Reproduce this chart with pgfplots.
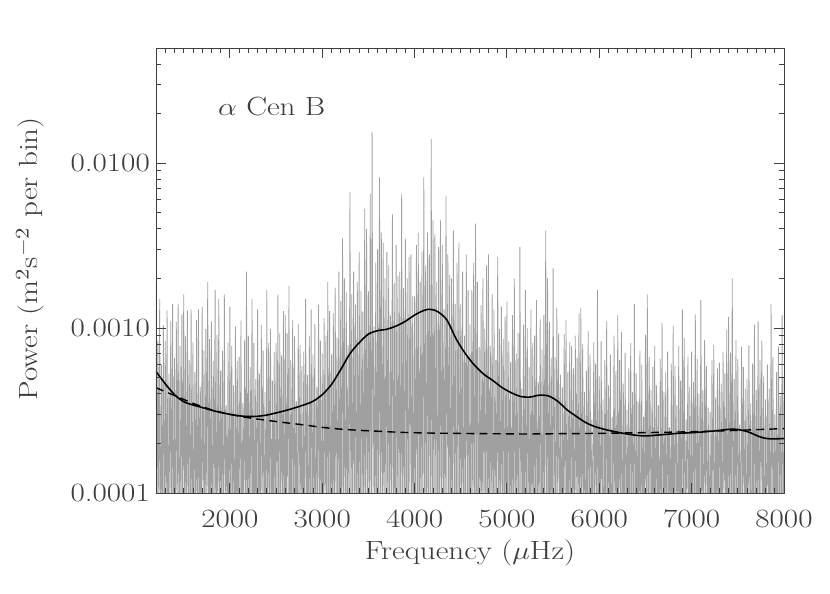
\documentclass[border=0pt]{standalone}
\usepackage{pgfplots}
\pgfplotsset{compat=1.18}
\usepackage{pgfplotstable}
\definecolor{spec}{RGB}{160,160,160}
\definecolor{txt}{RGB}{60,60,60}
\newcommand\hs[1]{\scalebox{1.18}[1]{#1}}
% power in units of 1e-4 m^2 s^-2 per bin
\pgfplotstableread[row sep=\\]{
f p\\
1200 19\\ 1210 0.3\\ 1220 8.4\\ 1230 0.8\\ 1240 15\\ 1250 0.15\\ 1260 6.0\\ 1270 0.5\\ 1280 10.4\\ 1290 0.4\\
1300 8.4\\ 1310 0.6\\ 1320 12.8\\ 1330 0.2\\ 1340 5.3\\ 1350 0.9\\ 1360 11\\ 1370 0.35\\ 1380 14\\ 1390 0.25\\
1400 6.6\\ 1410 0.3\\ 1420 10.9\\ 1430 0.8\\ 1440 14\\ 1450 0.15\\ 1460 7.8\\ 1470 0.5\\ 1480 12.1\\ 1490 0.4\\
1500 16\\ 1510 0.6\\ 1520 8.9\\ 1530 0.2\\ 1540 12.8\\ 1550 0.9\\ 1560 6.4\\ 1570 0.35\\ 1580 13\\ 1590 0.25\\
1600 8.2\\ 1610 0.3\\ 1620 5.4\\ 1630 0.8\\ 1640 11.2\\ 1650 0.15\\ 1660 13\\ 1670 0.5\\ 1680 4.4\\ 1690 0.4\\
1700 13.5\\ 1710 0.6\\ 1720 7.3\\ 1730 0.2\\ 1740 9.9\\ 1750 0.9\\ 1760 19\\ 1770 0.35\\ 1780 8.6\\ 1790 0.25\\
1800 11\\ 1810 0.3\\ 1820 6.3\\ 1830 0.8\\ 1840 17\\ 1850 0.15\\ 1860 9.1\\ 1870 0.5\\ 1880 15\\ 1890 0.4\\
1900 5.5\\ 1910 0.6\\ 1920 7.3\\ 1930 0.2\\ 1940 16\\ 1950 0.9\\ 1960 3.4\\ 1970 0.35\\ 1980 8.2\\ 1990 0.25\\
2000 13.5\\ 2010 0.3\\ 2020 7.8\\ 2030 0.8\\ 2040 4.5\\ 2050 0.15\\ 2060 10.2\\ 2070 0.5\\ 2080 6.3\\ 2090 0.4\\
2100 6.7\\ 2110 0.6\\ 2120 11.1\\ 2130 0.2\\ 2140 3.5\\ 2150 0.9\\ 2160 8.5\\ 2170 0.35\\ 2180 22\\ 2190 0.25\\
2200 9.0\\ 2210 0.3\\ 2220 5.8\\ 2230 0.8\\ 2240 15\\ 2250 0.15\\ 2260 8.1\\ 2270 0.5\\ 2280 4.9\\ 2290 0.4\\
2300 13\\ 2310 0.6\\ 2320 5.3\\ 2330 0.2\\ 2340 10.5\\ 2350 0.9\\ 2360 7.3\\ 2370 0.35\\ 2380 4.1\\ 2390 0.25\\
2400 17\\ 2410 0.3\\ 2420 8.1\\ 2430 0.8\\ 2440 9.9\\ 2450 0.15\\ 2460 4.8\\ 2470 0.5\\ 2480 7.2\\ 2490 0.4\\
2500 8.1\\ 2510 0.6\\ 2520 16\\ 2530 0.2\\ 2540 9.3\\ 2550 0.9\\ 2560 6.8\\ 2570 0.35\\ 2580 12.7\\ 2590 0.25\\
2600 12\\ 2610 0.3\\ 2620 9.3\\ 2630 0.8\\ 2640 18\\ 2650 0.15\\ 2660 6.4\\ 2670 0.5\\ 2680 11.2\\ 2690 0.4\\
2700 8.9\\ 2710 0.6\\ 2720 3.6\\ 2730 0.2\\ 2740 10.6\\ 2750 0.9\\ 2760 7.9\\ 2770 0.35\\ 2780 5.9\\ 2790 0.25\\
2800 7.2\\ 2810 0.3\\ 2820 15\\ 2830 0.8\\ 2840 5.2\\ 2850 0.15\\ 2860 9.0\\ 2870 0.5\\ 2880 13\\ 2890 0.4\\
2900 6.9\\ 2910 0.6\\ 2920 10.6\\ 2930 0.2\\ 2940 4.4\\ 2950 0.9\\ 2960 13.9\\ 2970 0.35\\ 2980 8.4\\ 2990 0.25\\
3000 7.0\\ 3010 0.3\\ 3020 11.5\\ 3030 0.8\\ 3040 9.0\\ 3050 0.15\\ 3060 19\\ 3070 0.5\\ 3080 12.7\\ 3090 0.4\\
3100 6.9\\ 3110 0.6\\ 3120 12.3\\ 3130 0.2\\ 3140 17.6\\ 3150 0.9\\ 3160 8.8\\ 3170 0.35\\ 3180 22\\ 3190 0.25\\
3200 14.6\\ 3210 0.3\\ 3220 35\\ 3230 0.8\\ 3240 20\\ 3250 0.15\\ 3260 16.5\\ 3270 0.5\\ 3280 7.9\\ 3290 0.4\\
3300 67\\ 3310 0.6\\ 3320 16\\ 3330 0.2\\ 3340 22\\ 3350 0.9\\ 3360 13.9\\ 3370 0.35\\ 3380 19\\ 3390 0.25\\
3400 29\\ 3410 0.3\\ 3420 16.8\\ 3430 0.8\\ 3440 12.6\\ 3450 0.15\\ 3460 53\\ 3470 0.5\\ 3480 40\\ 3490 0.4\\
3500 16.7\\ 3510 0.6\\ 3520 65\\ 3530 0.2\\ 3540 154\\ 3550 0.9\\ 3560 10.2\\ 3570 0.35\\ 3580 25\\ 3590 0.25\\
3600 30\\ 3610 0.3\\ 3620 82\\ 3630 0.8\\ 3640 38\\ 3650 0.15\\ 3660 33\\ 3670 0.5\\ 3680 20\\ 3690 0.4\\
3700 29\\ 3710 0.6\\ 3720 24\\ 3730 0.2\\ 3740 11.9\\ 3750 0.9\\ 3760 49\\ 3770 0.35\\ 3780 18.8\\ 3790 0.25\\
3800 32\\ 3810 0.3\\ 3820 20.6\\ 3830 0.8\\ 3840 22\\ 3850 0.15\\ 3860 65\\ 3870 0.5\\ 3880 17.5\\ 3890 0.4\\
3900 35\\ 3910 0.6\\ 3920 20\\ 3930 0.2\\ 3940 27\\ 3950 0.9\\ 3960 28\\ 3970 0.35\\ 3980 15.7\\ 3990 0.25\\
4000 15.6\\ 4010 0.3\\ 4020 32\\ 4030 0.8\\ 4040 38\\ 4050 0.15\\ 4060 19\\ 4070 0.5\\ 4080 29\\ 4090 0.4\\
4100 82\\ 4110 0.6\\ 4120 24\\ 4130 0.2\\ 4140 38\\ 4150 0.9\\ 4160 28\\ 4170 0.35\\ 4180 140\\ 4190 0.25\\
4200 45\\ 4210 0.3\\ 4220 37\\ 4230 0.8\\ 4240 19\\ 4250 0.15\\ 4260 31\\ 4270 0.5\\ 4280 45\\ 4290 0.4\\
4300 32\\ 4310 0.6\\ 4320 13\\ 4330 0.2\\ 4340 63\\ 4350 0.9\\ 4360 28\\ 4370 0.35\\ 4380 21\\ 4390 0.25\\
4400 20\\ 4410 0.3\\ 4420 39\\ 4430 0.8\\ 4440 14\\ 4450 0.15\\ 4460 25\\ 4470 0.5\\ 4480 33\\ 4490 0.4\\
4500 14\\ 4510 0.6\\ 4520 22\\ 4530 0.2\\ 4540 9.0\\ 4550 0.9\\ 4560 28\\ 4570 0.35\\ 4580 17\\ 4590 0.25\\
4600 10.5\\ 4610 0.3\\ 4620 17\\ 4630 0.8\\ 4640 25\\ 4650 0.15\\ 4660 43\\ 4670 0.5\\ 4680 19\\ 4690 0.4\\
4700 7.7\\ 4710 0.6\\ 4720 13.8\\ 4730 0.2\\ 4740 20\\ 4750 0.9\\ 4760 9.9\\ 4770 0.35\\ 4780 24\\ 4790 0.25\\
4800 28\\ 4810 0.3\\ 4820 7.8\\ 4830 0.8\\ 4840 16\\ 4850 0.15\\ 4860 13\\ 4870 0.5\\ 4880 6.4\\ 4890 0.4\\
4900 27\\ 4910 0.6\\ 4920 9.9\\ 4930 0.2\\ 4940 13.5\\ 4950 0.9\\ 4960 8.6\\ 4970 0.35\\ 4980 11.7\\ 4990 0.25\\
5000 14.5\\ 5010 0.3\\ 5020 8.3\\ 5030 0.8\\ 5040 6.2\\ 5050 0.15\\ 5060 12\\ 5070 0.5\\ 5080 20\\ 5090 0.4\\
5100 7.0\\ 5110 0.6\\ 5120 9.4\\ 5130 0.2\\ 5140 31\\ 5150 0.9\\ 5160 4.3\\ 5170 0.35\\ 5180 10.5\\ 5190 0.25\\
5200 17\\ 5210 0.3\\ 5220 10\\ 5230 0.8\\ 5240 5.8\\ 5250 0.15\\ 5260 13\\ 5270 0.5\\ 5280 8.1\\ 5290 0.4\\
5300 9.0\\ 5310 0.6\\ 5320 14.8\\ 5330 0.2\\ 5340 4.7\\ 5350 0.9\\ 5360 11.3\\ 5370 0.35\\ 5380 7.4\\ 5390 0.25\\
5400 12\\ 5410 0.3\\ 5420 39\\ 5430 0.8\\ 5440 20\\ 5450 0.15\\ 5460 10.9\\ 5470 0.5\\ 5480 6.6\\ 5490 0.4\\
5500 23\\ 5510 0.6\\ 5520 6.7\\ 5530 0.2\\ 5540 13.3\\ 5550 0.9\\ 5560 9.3\\ 5570 0.35\\ 5580 5.2\\ 5590 0.25\\
5600 4.4\\ 5610 0.3\\ 5620 9.2\\ 5630 0.8\\ 5640 11.2\\ 5650 0.15\\ 5660 5.4\\ 5670 0.5\\ 5680 8.2\\ 5690 0.4\\
5700 7.8\\ 5710 0.6\\ 5720 5.7\\ 5730 0.2\\ 5740 9.0\\ 5750 0.9\\ 5760 6.6\\ 5770 0.35\\ 5780 12.3\\ 5790 0.25\\
5800 13.2\\ 5810 0.3\\ 5820 8.0\\ 5830 0.8\\ 5840 4.1\\ 5850 0.15\\ 5860 5.5\\ 5870 0.5\\ 5880 9.6\\ 5890 0.4\\
5900 6.9\\ 5910 0.6\\ 5920 2.8\\ 5930 0.2\\ 5940 8.2\\ 5950 0.9\\ 5960 6.1\\ 5970 0.35\\ 5980 17\\ 5990 0.25\\
6000 5.1\\ 6010 0.3\\ 6020 8.3\\ 6030 0.8\\ 6040 3.7\\ 6050 0.15\\ 6060 6.4\\ 6070 0.5\\ 6080 11\\ 6090 0.4\\
6100 4.5\\ 6110 0.6\\ 6120 6.9\\ 6130 0.2\\ 6140 2.9\\ 6150 0.9\\ 6160 9.0\\ 6170 0.35\\ 6180 5.5\\ 6190 0.25\\
6200 12\\ 6210 0.3\\ 6220 6.4\\ 6230 0.8\\ 6240 9.5\\ 6250 0.15\\ 6260 4.6\\ 6270 0.5\\ 6280 7.1\\ 6290 0.4\\
6300 3.2\\ 6310 0.6\\ 6320 5.7\\ 6330 0.2\\ 6340 8.1\\ 6350 0.9\\ 6360 4.1\\ 6370 0.35\\ 6380 14\\ 6390 0.25\\
6400 5.3\\ 6410 0.3\\ 6420 3.6\\ 6430 0.8\\ 6440 7.3\\ 6450 0.15\\ 6460 6.0\\ 6470 0.5\\ 6480 2.9\\ 6490 0.4\\
6500 9.1\\ 6510 0.6\\ 6520 16\\ 6530 0.2\\ 6540 6.7\\ 6550 0.9\\ 6560 4.2\\ 6570 0.35\\ 6580 5.8\\ 6590 0.25\\
6600 7.8\\ 6610 0.3\\ 6620 4.5\\ 6630 0.8\\ 6640 3.4\\ 6650 0.15\\ 6660 6.5\\ 6670 0.5\\ 6680 10.8\\ 6690 0.4\\
6700 4.1\\ 6710 0.6\\ 6720 5.4\\ 6730 0.2\\ 6740 7.2\\ 6750 0.9\\ 6760 2.5\\ 6770 0.35\\ 6780 6.1\\ 6790 0.25\\
6800 10.3\\ 6810 0.3\\ 6820 5.9\\ 6830 0.8\\ 6840 3.4\\ 6850 0.15\\ 6860 7.8\\ 6870 0.5\\ 6880 4.8\\ 6890 0.4\\
6900 13\\ 6910 0.6\\ 6920 8.7\\ 6930 0.2\\ 6940 2.8\\ 6950 0.9\\ 6960 6.7\\ 6970 0.35\\ 6980 4.4\\ 6990 0.25\\
7000 7.2\\ 7010 0.3\\ 7020 4.7\\ 7030 0.8\\ 7040 12.1\\ 7050 0.15\\ 7060 6.5\\ 7070 0.5\\ 7080 4.0\\ 7090 0.4\\
7100 14.8\\ 7110 0.6\\ 7120 4.2\\ 7130 0.2\\ 7140 8.5\\ 7150 0.9\\ 7160 5.9\\ 7170 0.35\\ 7180 3.3\\ 7190 0.25\\
7200 3.1\\ 7210 0.3\\ 7220 6.4\\ 7230 0.8\\ 7240 7.9\\ 7250 0.15\\ 7260 3.8\\ 7270 0.5\\ 7280 5.7\\ 7290 0.4\\
7300 6.2\\ 7310 0.6\\ 7320 4.6\\ 7330 0.2\\ 7340 7.2\\ 7350 0.9\\ 7360 5.3\\ 7370 0.35\\ 7380 9.8\\ 7390 0.25\\
7400 11.7\\ 7410 0.3\\ 7420 7.1\\ 7430 0.8\\ 7440 20\\ 7450 0.15\\ 7460 4.9\\ 7470 0.5\\ 7480 8.5\\ 7490 0.4\\
7500 6.5\\ 7510 0.6\\ 7520 2.6\\ 7530 0.2\\ 7540 7.7\\ 7550 0.9\\ 7560 5.8\\ 7570 0.35\\ 7580 4.3\\ 7590 0.25\\
7600 4.9\\ 7610 0.3\\ 7620 7.9\\ 7630 0.8\\ 7640 3.5\\ 7650 0.15\\ 7660 6.1\\ 7670 0.5\\ 7680 10.5\\ 7690 0.4\\
7700 4.2\\ 7710 0.6\\ 7720 11\\ 7730 0.2\\ 7740 6.4\\ 7750 0.9\\ 7760 8.4\\ 7770 0.35\\ 7780 5.1\\ 7790 0.25\\
7800 3.7\\ 7810 0.3\\ 7820 6.0\\ 7830 0.8\\ 7840 4.3\\ 7850 0.15\\ 7860 14\\ 7870 0.5\\ 7880 6.7\\ 7890 0.4\\
7900 3.0\\ 7910 0.6\\ 7920 5.4\\ 7930 0.2\\ 7940 7.7\\ 7950 0.9\\ 7960 3.9\\ 7970 0.35\\ 7980 12\\ 7990 0.25\\
8000 5.0\\
}\powspec
\begin{document}
\begin{tikzpicture}
\path[use as bounding box] (-3.12cm,-2.0cm) rectangle (13.48cm,9.86cm);
\begin{axis}[
  at={(0,0)}, anchor=south west,
  scale only axis, width=12.56cm, height=8.9cm,
  ymode=log,
  xmin=1200, xmax=8000, ymin=1, ymax=500,
  xtick={2000,3000,4000,5000,6000,7000,8000},
  xticklabels={\hs{2000},\hs{3000},\hs{4000},\hs{5000},\hs{6000},\hs{7000},\hs{8000}},
  minor xtick={1200,1300,...,8000},
  ytick={1,10,100},
  yticklabels={\hs{0.0001},\hs{0.0010},\hs{0.0100}},
  minor ytick={2,3,4,5,6,7,8,9,20,30,40,50,60,70,80,90,200,300,400},
  tick align=inside,
  major tick length=5.5pt, minor tick length=3pt,
  axis line style={black!75, line width=0.5pt},
  every tick/.style={black!75, line width=0.5pt},
  tick label style={font=\fontsize{15}{18}\selectfont, text=txt},
  label style={font=\fontsize{15}{18}\selectfont, text=txt},
  xticklabel style={yshift=-6pt},
  xlabel={\hs{Frequency ($\mu$Hz)}},
  xlabel style={at={(axis description cs:0.5,0)}, anchor=north, yshift=-23pt},
  ylabel={\hs{Power (m$^2$s$^{-2}$ per bin)}},
  ylabel style={at={(axis description cs:-0.2,0.526)}, anchor=center},
  axis on top,
]
\addplot[spec, line width=0.45pt] table[x=f, y=p] {\powspec};
\addplot[black, line width=0.9pt, smooth] coordinates {
(1200,5.45) (1300,4.6) (1400,3.95) (1500,3.58) (1600,3.42) (1700,3.3) (1800,3.18)
(1900,3.08) (2000,3.0) (2100,2.94) (2200,2.91) (2300,2.92) (2400,2.97) (2500,3.06)
(2600,3.16) (2700,3.28) (2800,3.42) (2900,3.6) (3000,3.95) (3100,4.55) (3200,5.6)
(3300,7.0) (3400,8.15) (3500,9.2) (3600,9.65) (3700,9.85) (3800,10.3) (3900,11.0)
(4000,12.0) (4100,12.8) (4170,13.0) (4250,12.6) (4350,11.2) (4450,8.6) (4550,7.0)
(4650,5.95) (4750,5.25) (4850,4.8) (4950,4.35) (5050,4.05) (5150,3.85) (5250,3.82)
(5350,3.92) (5450,3.88) (5550,3.6) (5650,3.2) (5750,2.92) (5850,2.68) (5950,2.53)
(6100,2.4) (6300,2.28) (6480,2.22) (6650,2.25) (6850,2.3) (7050,2.33) (7250,2.38)
(7450,2.44) (7600,2.36) (7750,2.18) (7850,2.13) (8000,2.14)
};
\addplot[black, line width=0.8pt, dash pattern=on 4.5pt off 3pt, smooth] coordinates {
(1200,4.35) (1400,3.9) (1600,3.5) (1800,3.2) (2000,3.0) (2200,2.86) (2400,2.76)
(2600,2.67) (2800,2.59) (3000,2.5) (3200,2.44) (3400,2.40) (3600,2.37) (3800,2.34)
(4000,2.32) (4400,2.30) (4800,2.29) (5200,2.28) (5600,2.29) (6000,2.30) (6400,2.32)
(6800,2.34) (7200,2.37) (7600,2.41) (8000,2.46)
};
\node[anchor=base west, font=\fontsize{15}{18}\selectfont, text=txt]
  at (axis description cs:0.089,0.849) {\hs{$\alpha$ Cen B}};
\end{axis}
\end{tikzpicture}
\end{document}
